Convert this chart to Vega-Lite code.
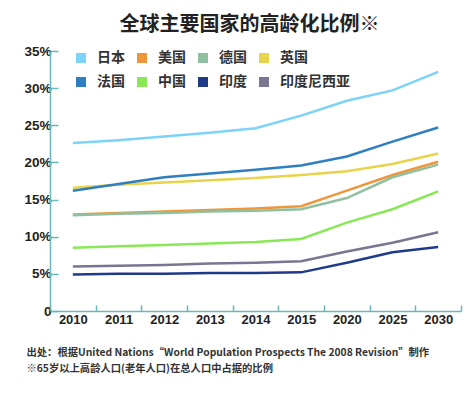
{
  "$schema": "https://vega.github.io/schema/vega-lite/v6.json",
  "autosize": "none",
  "width": 411,
  "height": 260,
  "padding": {"left": 50, "top": 51, "right": 5, "bottom": 86},
  "background": "white",
  "title": {
    "text": "全球主要国家的高龄化比例※",
    "anchor": "middle",
    "dx": -6,
    "offset": 9,
    "fontSize": 20,
    "font": "Noto Sans CJK SC",
    "fontWeight": "bold",
    "color": "#222222"
  },
  "config": {"view": {"stroke": null}},
  "data": {
    "values": [
      {"year": "2010", "country": "日本", "value": 22.6},
      {"year": "2011", "country": "日本", "value": 23.0},
      {"year": "2012", "country": "日本", "value": 23.5},
      {"year": "2013", "country": "日本", "value": 24.0},
      {"year": "2014", "country": "日本", "value": 24.6},
      {"year": "2015", "country": "日本", "value": 26.3},
      {"year": "2020", "country": "日本", "value": 28.3},
      {"year": "2025", "country": "日本", "value": 29.7},
      {"year": "2030", "country": "日本", "value": 32.2},
      {"year": "2010", "country": "美国", "value": 13.0},
      {"year": "2011", "country": "美国", "value": 13.2},
      {"year": "2012", "country": "美国", "value": 13.4},
      {"year": "2013", "country": "美国", "value": 13.6},
      {"year": "2014", "country": "美国", "value": 13.8},
      {"year": "2015", "country": "美国", "value": 14.1},
      {"year": "2020", "country": "美国", "value": 16.2},
      {"year": "2025", "country": "美国", "value": 18.3},
      {"year": "2030", "country": "美国", "value": 20.1},
      {"year": "2010", "country": "德国", "value": 12.9},
      {"year": "2011", "country": "德国", "value": 13.1},
      {"year": "2012", "country": "德国", "value": 13.2},
      {"year": "2013", "country": "德国", "value": 13.4},
      {"year": "2014", "country": "德国", "value": 13.5},
      {"year": "2015", "country": "德国", "value": 13.7},
      {"year": "2020", "country": "德国", "value": 15.2},
      {"year": "2025", "country": "德国", "value": 18.0},
      {"year": "2030", "country": "德国", "value": 19.7},
      {"year": "2010", "country": "英国", "value": 16.6},
      {"year": "2011", "country": "英国", "value": 17.0},
      {"year": "2012", "country": "英国", "value": 17.3},
      {"year": "2013", "country": "英国", "value": 17.6},
      {"year": "2014", "country": "英国", "value": 17.9},
      {"year": "2015", "country": "英国", "value": 18.3},
      {"year": "2020", "country": "英国", "value": 18.8},
      {"year": "2025", "country": "英国", "value": 19.8},
      {"year": "2030", "country": "英国", "value": 21.2},
      {"year": "2010", "country": "法国", "value": 16.2},
      {"year": "2011", "country": "法国", "value": 17.1},
      {"year": "2012", "country": "法国", "value": 18.0},
      {"year": "2013", "country": "法国", "value": 18.5},
      {"year": "2014", "country": "法国", "value": 19.0},
      {"year": "2015", "country": "法国", "value": 19.6},
      {"year": "2020", "country": "法国", "value": 20.8},
      {"year": "2025", "country": "法国", "value": 22.8},
      {"year": "2030", "country": "法国", "value": 24.7},
      {"year": "2010", "country": "中国", "value": 8.5},
      {"year": "2011", "country": "中国", "value": 8.7},
      {"year": "2012", "country": "中国", "value": 8.9},
      {"year": "2013", "country": "中国", "value": 9.1},
      {"year": "2014", "country": "中国", "value": 9.3},
      {"year": "2015", "country": "中国", "value": 9.7},
      {"year": "2020", "country": "中国", "value": 11.9},
      {"year": "2025", "country": "中国", "value": 13.7},
      {"year": "2030", "country": "中国", "value": 16.1},
      {"year": "2010", "country": "印度", "value": 4.9},
      {"year": "2011", "country": "印度", "value": 5.0},
      {"year": "2012", "country": "印度", "value": 5.0},
      {"year": "2013", "country": "印度", "value": 5.1},
      {"year": "2014", "country": "印度", "value": 5.1},
      {"year": "2015", "country": "印度", "value": 5.2},
      {"year": "2020", "country": "印度", "value": 6.5},
      {"year": "2025", "country": "印度", "value": 7.9},
      {"year": "2030", "country": "印度", "value": 8.6},
      {"year": "2010", "country": "印度尼西亚", "value": 6.0},
      {"year": "2011", "country": "印度尼西亚", "value": 6.1},
      {"year": "2012", "country": "印度尼西亚", "value": 6.2},
      {"year": "2013", "country": "印度尼西亚", "value": 6.4},
      {"year": "2014", "country": "印度尼西亚", "value": 6.5},
      {"year": "2015", "country": "印度尼西亚", "value": 6.7},
      {"year": "2020", "country": "印度尼西亚", "value": 8.0},
      {"year": "2025", "country": "印度尼西亚", "value": 9.2},
      {"year": "2030", "country": "印度尼西亚", "value": 10.6}
    ]
  },
  "mark": {"type": "line", "strokeWidth": 2.5},
  "encoding": {
    "x": {
      "field": "year",
      "type": "ordinal",
      "bandPosition": 0.5,
      "scale": {"type": "band", "paddingInner": 0, "paddingOuter": 0},
      "axis": {
        "title": ["出处：根据United Nations“World Population Prospects The 2008 Revision”制作", "※65岁以上高龄人口(老年人口)在总人口中占据的比例"],
        "titleAnchor": "start",
        "titleAlign": "left",
        "titleBaseline": "top",
        "titleX": -24,
        "titleY": 36,
        "titleFont": "Noto Sans CJK SC",
        "titleFontSize": 10.3,
        "titleFontWeight": "bold",
        "titleColor": "#333333",
        "titleLineHeight": 16,
        "labelAngle": 0,
        "labelFont": "Liberation Sans",
        "labelFontSize": 13,
        "labelFontWeight": "bold",
        "labelColor": "#222222",
        "labelPadding": 8,
        "tickBand": "extent",
        "tickSize": -6,
        "tickColor": "#6ab8b8",
        "tickWidth": 1.5,
        "domainColor": "#6ab8b8",
        "domainWidth": 1.5
      }
    },
    "y": {
      "field": "value",
      "type": "quantitative",
      "scale": {"domain": [0, 35], "nice": false},
      "axis": {
        "title": null,
        "values": [0, 5, 10, 15, 20, 25, 30, 35],
        "labelExpr": "datum.value == 0 ? '0' : datum.value + '%'",
        "grid": false,
        "labelFont": "Liberation Sans",
        "labelFontSize": 13.5,
        "labelFontWeight": "bold",
        "labelColor": "#222222",
        "labelPadding": 7,
        "tickSize": -8,
        "tickColor": "#6ab8b8",
        "tickWidth": 1.5,
        "domainColor": "#6ab8b8",
        "domainWidth": 1.5
      }
    },
    "color": {
      "field": "country",
      "type": "nominal",
      "scale": {
        "domain": ["日本", "美国", "德国", "英国", "法国", "中国", "印度", "印度尼西亚"],
        "range": ["#7dd3f7", "#f0963a", "#8fc0a0", "#e8d44a", "#2f7fc0", "#88e855", "#1f3a8a", "#7a7590"]
      },
      "legend": {
        "title": null,
        "orient": "none",
        "legendX": 24,
        "legendY": 0,
        "direction": "horizontal",
        "columns": 4,
        "symbolType": "square",
        "symbolSize": 100,
        "symbolStrokeWidth": 0,
        "symbolOpacity": 1,
        "labelFont": "Noto Sans CJK SC",
        "labelFontSize": 14,
        "labelFontWeight": "bold",
        "labelColor": "#333333",
        "labelOffset": 9,
        "columnPadding": 10,
        "rowPadding": 10,
        "padding": 0,
        "encode": {
          "symbols": {
            "update": {
              "fill": {"scale": "color", "field": "value"},
              "fillOpacity": {"value": 1}
            }
          }
        }
      }
    }
  }
}
